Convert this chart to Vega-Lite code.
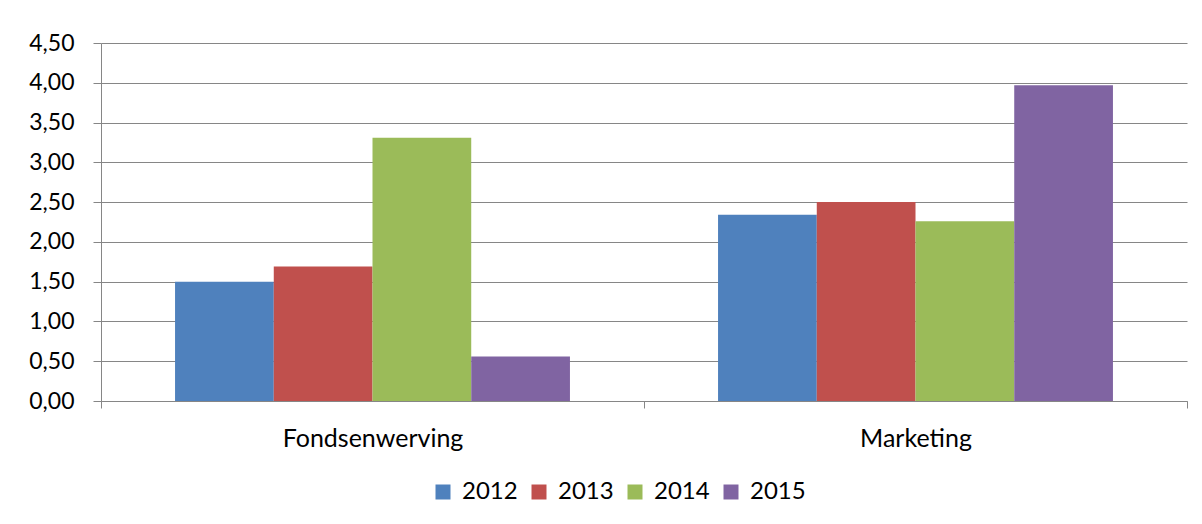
{
  "$schema": "https://vega.github.io/schema/vega-lite/v6.json",
  "width": 1086,
  "height": 358,
  "autosize": {"type": "none"},
  "padding": {"left": 101, "top": 43, "right": 15, "bottom": 123},
  "background": "white",
  "config": {
    "locale": {"number": {"decimal": ",", "thousands": ".", "grouping": [3], "currency": ["€", ""]}},
    "view": {"stroke": null},
    "font": "Lato"
  },
  "data": {
    "values": [
      {"categorie": "Fondsenwerving", "jaar": "2012", "waarde": 1.50},
      {"categorie": "Fondsenwerving", "jaar": "2013", "waarde": 1.69},
      {"categorie": "Fondsenwerving", "jaar": "2014", "waarde": 3.31},
      {"categorie": "Fondsenwerving", "jaar": "2015", "waarde": 0.56},
      {"categorie": "Marketing", "jaar": "2012", "waarde": 2.34},
      {"categorie": "Marketing", "jaar": "2013", "waarde": 2.50},
      {"categorie": "Marketing", "jaar": "2014", "waarde": 2.26},
      {"categorie": "Marketing", "jaar": "2015", "waarde": 3.97}
    ]
  },
  "mark": {"type": "bar"},
  "encoding": {
    "x": {
      "field": "categorie",
      "type": "nominal",
      "sort": ["Fondsenwerving", "Marketing"],
      "scale": {"paddingInner": 0, "paddingOuter": 0},
      "axis": {
        "title": null,
        "labelAngle": 0,
        "tickBand": "extent",
        "domainColor": "#868686",
        "tickColor": "#868686",
        "tickSize": 7,
        "labelFontSize": 25,
        "labelColor": "#000000",
        "labelPadding": 18,
        "labelLimit": 0,
        "grid": false
      }
    },
    "xOffset": {
      "field": "jaar",
      "type": "nominal",
      "scale": {"paddingInner": 0, "paddingOuter": 0.75}
    },
    "y": {
      "field": "waarde",
      "type": "quantitative",
      "scale": {"domain": [0, 4.5], "nice": false},
      "axis": {
        "title": null,
        "values": [0, 0.5, 1, 1.5, 2, 2.5, 3, 3.5, 4, 4.5],
        "format": ".2f",
        "grid": true,
        "gridColor": "#868686",
        "gridOpacity": 1,
        "domainColor": "#868686",
        "tickColor": "#868686",
        "tickSize": 8,
        "labelFontSize": 23,
        "labelColor": "#000000",
        "labelPadding": 19
      }
    },
    "color": {
      "field": "jaar",
      "type": "nominal",
      "scale": {"domain": ["2012", "2013", "2014", "2015"], "range": ["#4F81BD", "#C0504D", "#9BBB59", "#8064A2"]},
      "legend": {
        "title": null,
        "orient": "none",
        "legendX": 330,
        "legendY": 437,
        "direction": "horizontal",
        "columns": 4,
        "symbolType": "square",
        "symbolSize": 225,
        "symbolStrokeWidth": 0,
        "symbolOpacity": 1,
        "labelFontSize": 24,
        "labelColor": "#000000",
        "labelOffset": 7,
        "columnPadding": 9
      }
    }
  }
}
